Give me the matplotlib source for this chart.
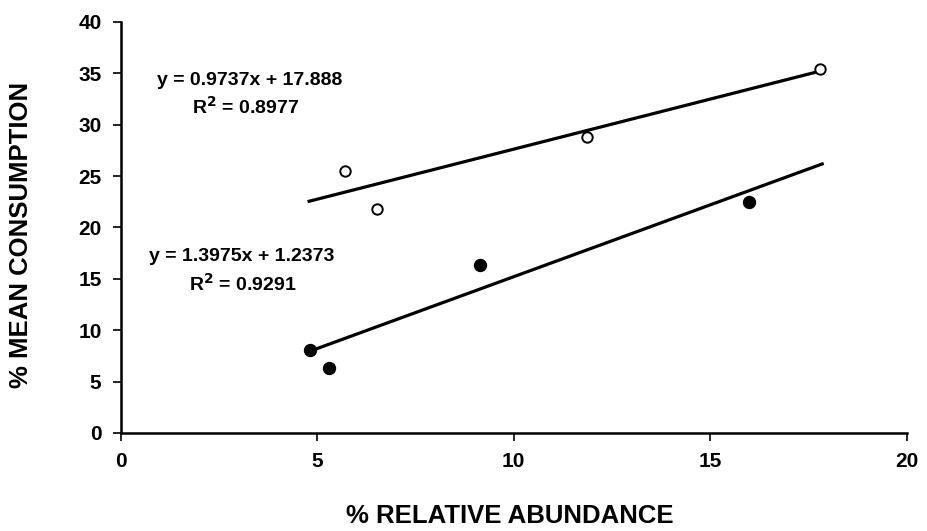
import matplotlib.pyplot as plt

plt.rcParams['font.family'] = ['Liberation Sans', 'DejaVu Sans']
plt.rcParams['font.weight'] = 'bold'

# open circles (upper series)
open_x = [5.7, 6.52, 11.87, 17.8]
open_y = [25.45, 21.8, 28.8, 35.4]
# filled circles (lower series)
fill_x = [4.81, 5.3, 9.15, 16.0]
fill_y = [8.1, 6.3, 16.35, 22.45]

# trend lines
open_fit = (0.9737, 17.888)
fill_fit = (1.3975, 1.2373)
open_range = [4.79, 17.8]
fill_range = [4.8, 17.85]

fig = plt.figure(figsize=(9.27, 5.31), dpi=100)
ax = fig.add_axes([0.1305, 0.1846, 0.8475, 0.774])

ax.plot(open_range, [open_fit[0] * x + open_fit[1] for x in open_range],
        color='black', lw=2.3)
ax.plot(fill_range, [fill_fit[0] * x + fill_fit[1] for x in fill_range],
        color='black', lw=2.3)
ax.plot(open_x, open_y, 'o', mfc='white', mec='black', mew=1.4, ms=7.5)
ax.plot(fill_x, fill_y, 'o', color='black', ms=8.6)

eq_size = 14
ax.text(3.28, 34.35, 'y = 0.9737x + 17.888', ha='center', va='center',
        fontsize=eq_size, fontweight='bold')
ax.text(3.18, 31.7, 'R$^\\mathbf{2}$ = 0.8977', ha='center', va='center',
        fontsize=eq_size, fontweight='bold')
ax.text(3.07, 17.16, 'y = 1.3975x + 1.2373', ha='center', va='center',
        fontsize=eq_size, fontweight='bold')
ax.text(3.1, 14.5, 'R$^\\mathbf{2}$ = 0.9291', ha='center', va='center',
        fontsize=eq_size, fontweight='bold')

ax.set_xlim(0, 20)
ax.set_ylim(0, 40)
ax.set_xticks([0, 5, 10, 15, 20])
ax.set_yticks(range(0, 41, 5))
ax.spines['top'].set_visible(False)
ax.spines['right'].set_visible(False)
ax.spines['left'].set_linewidth(1.8)
ax.spines['bottom'].set_linewidth(1.8)
ax.tick_params(direction='out', length=6, width=1.2, labelsize=15, pad=8)
for lab in ax.get_xticklabels() + ax.get_yticklabels():
    lab.set_fontweight('bold')

fig.text(0.55, 0.028, '% RELATIVE ABUNDANCE', ha='center', va='center',
         fontsize=18.5, fontweight='bold')
fig.text(0.0227, 0.557, '% MEAN CONSUMPTION', ha='center', va='center',
         rotation=90, fontsize=18.5, fontweight='bold')

fig.savefig('out.png', dpi=100)
